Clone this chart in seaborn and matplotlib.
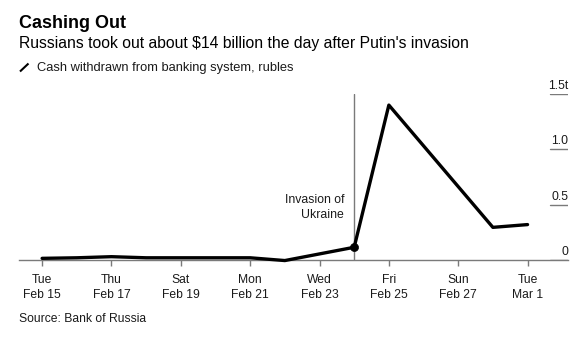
import matplotlib
matplotlib.use("Agg")
import matplotlib.pyplot as plt
import matplotlib.transforms as mtransforms
from matplotlib.lines import Line2D
import pandas as pd
import seaborn as sns

# Daily cash withdrawn from the Russian banking system (trillion rubles)
dates = ["2022-02-15", "2022-02-16", "2022-02-17", "2022-02-18", "2022-02-21",
         "2022-02-22", "2022-02-24", "2022-02-25", "2022-02-28", "2022-03-01"]
withdrawn = [0.015, 0.02, 0.03, 0.02, 0.02, -0.005, 0.115, 1.40, 0.295, 0.32]

tick_dates = ["2022-02-15", "2022-02-17", "2022-02-19", "2022-02-21",
              "2022-02-23", "2022-02-25", "2022-02-27", "2022-03-01"]
tick_labels = ["Tue\nFeb 15", "Thu\nFeb 17", "Sat\nFeb 19", "Mon\nFeb 21",
               "Wed\nFeb 23", "Fri\nFeb 25", "Sun\nFeb 27", "Tue\nMar 1"]
y_ticks = [0, 0.5, 1.0, 1.5]
y_tick_labels = ["0", "0.5", "1.0", "1.5t"]
invasion_date = "2022-02-24"

sns.set_theme(style="white")
plt.rcParams["font.family"] = ["Liberation Sans", "DejaVu Sans"]

W, H = 587, 341
fig = plt.figure(figsize=(W / 100, H / 100), dpi=100)
fig.patch.set_facecolor("white")


def fx(x):
    return x / W


def fy(y):
    return (H - y) / H


ax = fig.add_axes([fx(19), fy(260), 549 / W, 166 / H])

df = pd.DataFrame({"date": pd.to_datetime(dates), "value": withdrawn})
sns.lineplot(data=df, x="date", y="value", color="black", linewidth=2.4,
             ax=ax, clip_on=False, zorder=4)

inv = pd.Timestamp(invasion_date)
inv_val = df.loc[df["date"] == inv, "value"].iloc[0]
ax.axvline(inv, color="#7a7a7a", linewidth=1.0, zorder=2)
sns.scatterplot(x=[inv], y=[inv_val], color="black", s=34, ax=ax,
                zorder=5, edgecolor="black", clip_on=False)

ax.set_xlim(pd.Timestamp("2022-02-15") - pd.Timedelta(hours=16),
            pd.Timestamp("2022-03-01") + pd.Timedelta(hours=28))
ax.set_ylim(0, 1.5)

for side in ["top", "right", "left"]:
    ax.spines[side].set_visible(False)
ax.spines["bottom"].set_color("#7a7a7a")
ax.spines["bottom"].set_linewidth(1.0)

ax.set_xticks(pd.to_datetime(tick_dates))
ax.set_xticklabels(tick_labels, fontsize=8.7, color="#1a1a1a", linespacing=1.4)
ax.tick_params(axis="x", bottom=True, direction="out", length=4.5, width=1.0,
               color="#7a7a7a", pad=5.5)
ax.set_yticks([])
ax.set_xlabel("")
ax.set_ylabel("")

# short grid stubs and labels on the right
lab_tr = mtransforms.blended_transform_factory(ax.transAxes, ax.transData)
lab_off = mtransforms.offset_copy(lab_tr, fig=fig, x=0, y=5, units="dots")
for yv, lab in zip(y_ticks, y_tick_labels):
    ax.axhline(yv, xmin=0.967, xmax=1.0, color="#7a7a7a", linewidth=1.0)
    ax.text(1.0, yv, lab, transform=lab_off, ha="right", va="baseline",
            fontsize=8.7, color="#1a1a1a")

# invasion annotation
ann_tr = mtransforms.offset_copy(ax.transData, fig=fig, x=-10, y=0, units="dots")
ax.text(inv, 0.38, "Invasion of\nUkraine", transform=ann_tr, ha="right",
        va="baseline", multialignment="right", fontsize=8.8, color="#1a1a1a",
        linespacing=1.3)

# header
fig.text(fx(19), fy(27.7), "Cashing Out", fontsize=13.0, fontweight="bold",
         color="black", ha="left", va="baseline")
fig.text(fx(19), fy(48), "Russians took out about $14 billion the day after Putin's invasion",
         fontsize=11.3, color="black", ha="left", va="baseline")
fig.add_artist(Line2D([fx(20), fx(28.5)], [fy(71.5), fy(63.5)], color="black",
                      linewidth=1.5, solid_capstyle="butt"))
fig.text(fx(37), fy(71), "Cash withdrawn from banking system, rubles",
         fontsize=9.3, color="#1a1a1a", ha="left", va="baseline")
fig.text(fx(19), fy(322), "Source: Bank of Russia", fontsize=8.7,
         color="#1a1a1a", ha="left", va="baseline")

fig.savefig("out.png", dpi=100, facecolor="white")
